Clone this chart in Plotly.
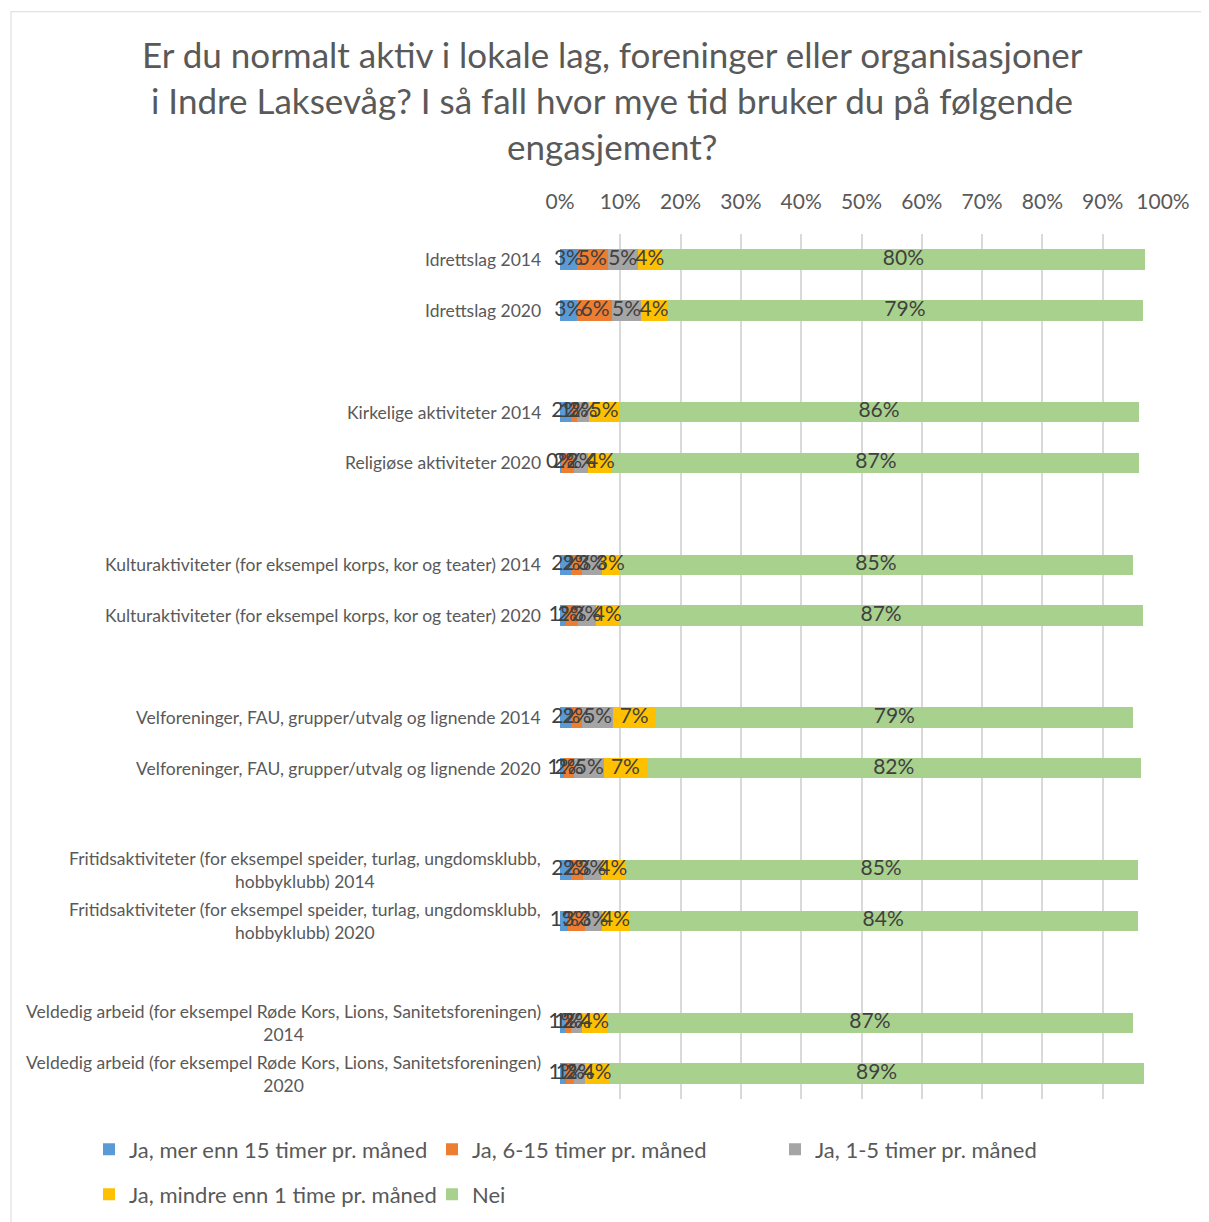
import plotly.graph_objects as go

# ---------------- data ----------------
categories = [
    "Idrettslag 2014",
    "Idrettslag 2020",
    "Kirkelige aktiviteter 2014",
    "Religiøse aktiviteter 2020",
    "Kulturaktiviteter (for eksempel korps, kor og teater) 2014",
    "Kulturaktiviteter (for eksempel korps, kor og teater) 2020",
    "Velforeninger, FAU, grupper/utvalg og lignende 2014",
    "Velforeninger, FAU, grupper/utvalg og lignende 2020",
    "Fritidsaktiviteter (for eksempel speider, turlag, ungdomsklubb,<br>hobbyklubb) 2014",
    "Fritidsaktiviteter (for eksempel speider, turlag, ungdomsklubb,<br>hobbyklubb) 2020",
    "Veldedig arbeid (for eksempel Røde Kors, Lions, Sanitetsforeningen)<br>2014",
    "Veldedig arbeid (for eksempel Røde Kors, Lions, Sanitetsforeningen)<br>2020",
]
series_names = [
    "Ja, mer enn 15 timer pr. måned",
    "Ja, 6-15 timer pr. måned",
    "Ja, 1-5 timer pr. måned",
    "Ja, mindre enn 1 time pr. måned",
    "Nei",
]
mer_enn_15 = [2.8, 2.9, 1.9, 0.2, 1.9, 1.0, 1.9, 0.6, 1.9, 1.4, 0.9, 1.0]
timer_6_15 = [5.1, 5.8, 0.9, 2.1, 1.8, 2.0, 1.8, 1.8, 1.9, 2.8, 1.0, 1.4]
timer_1_5 = [5.0, 4.7, 2.0, 2.4, 3.2, 2.9, 5.1, 4.9, 3.0, 2.8, 1.8, 1.8]
mindre_enn_1 = [4.0, 4.4, 5.0, 4.0, 2.9, 3.9, 7.0, 7.1, 3.9, 4.4, 4.1, 3.9]
nei = [80.1, 78.8, 86.2, 87.4, 85.2, 86.9, 79.3, 81.9, 85.1, 84.4, 87.2, 88.8]
x_ticks = [0, 10, 20, 30, 40, 50, 60, 70, 80, 90, 100]
x_tick_labels = ["0%", "10%", "20%", "30%", "40%", "50%", "60%", "70%", "80%", "90%", "100%"]

colors = ["#5B9BD5", "#ED7D31", "#A5A5A5", "#FFC000", "#A9D18E"]
series_values = [mer_enn_15, timer_6_15, timer_1_5, mindre_enn_1, nei]

# insert an empty slot after every pair of categories
y_cats, gap_idx = [], 0
for i, c in enumerate(categories):
    y_cats.append(c)
    if i % 2 == 1 and i < len(categories) - 1:
        gap_idx += 1
        y_cats.append(" " * gap_idx)

def expand(vals):
    out, k = [], 0
    for c in y_cats:
        if c.strip() == "":
            out.append(None)
        else:
            out.append(vals[k]); k += 1
    return out

# ---------------- layout geometry (page pixels; page body has 8px margin) ----------------
OFF = 8
PAGE_W, PAGE_H = 1209, 1222
W, H = PAGE_W - OFF, PAGE_H - OFF
P_LEFT, P_RIGHT, P_TOP, P_BOTTOM = 560, 1163, 233.5, 1099.5
ML, MR = P_LEFT - OFF, PAGE_W - P_RIGHT
MT, MB = P_TOP - OFF, PAGE_H - P_BOTTOM
PW, PH = P_RIGHT - P_LEFT, P_BOTTOM - P_TOP

def px_x(x):
    return (x - P_LEFT) / PW

def px_y(y):
    return (P_BOTTOM - y) / PH

FONT = "Lato"
TXT = "#595959"

fig = go.Figure()
for i, (name, vals, col) in enumerate(zip(series_names, series_values, colors)):
    fig.add_trace(go.Bar(
        x=expand(vals), y=y_cats, orientation="h", name=name,
        marker=dict(color=col, line=dict(width=0)),
        hoverinfo="x+name",
        legend="legend" if i < 3 else "legend2",
    ))

# data labels drawn on top of all bars (centre of each stacked segment)
lab_x, lab_y, lab_t = [], [], []
for r, cat in enumerate(categories):
    cum = 0.0
    for vals in series_values:
        v = vals[r]
        lab_x.append(cum + v / 2)
        lab_y.append(cat)
        lab_t.append(f"{v:.0f}%")
        cum += v
fig.add_trace(go.Scatter(
    x=lab_x, y=lab_y, mode="text", text=lab_t, textposition="middle center",
    textfont=dict(size=21, color="#404040", family=FONT),
    showlegend=False, hoverinfo="skip", cliponaxis=False,
))

fig.update_layout(
    width=W, height=H, barmode="stack", bargap=0.6,
    paper_bgcolor="white", plot_bgcolor="white",
    margin=dict(l=ML, r=MR, t=MT, b=MB, autoexpand=False),
    font=dict(family=FONT, color=TXT),
    xaxis=dict(side="top", range=[0, 100], tickvals=x_ticks, ticktext=x_tick_labels,
               showgrid=True, gridcolor="#D9D9D9", gridwidth=2, zeroline=False,
               showline=False, ticks="", tickfont=dict(size=21, color=TXT),
               ticklabelstandoff=20),
    yaxis=dict(type="category", categoryorder="array", categoryarray=y_cats,
               range=[len(y_cats) - 0.5, -0.5], showgrid=False, zeroline=False,
               showline=False, ticks="", showticklabels=False),
    legend=dict(orientation="h", x=px_x(89), xanchor="left", y=px_y(1150), yanchor="middle",
                font=dict(size=22, color=TXT), entrywidth=298, traceorder="normal"),
    legend2=dict(orientation="h", x=px_x(89), xanchor="left", y=px_y(1195), yanchor="middle",
                 font=dict(size=22, color=TXT), entrywidth=298, traceorder="normal"),
    showlegend=True,
)

# category labels (right-aligned block, lines centred within it, like the original)
for cat in categories:
    fig.add_annotation(text=cat, xref="paper", yref="y", x=px_x(543), y=cat,
                       xanchor="right", yanchor="middle", align="center",
                       showarrow=False, font=dict(size=17.5, color=TXT, family=FONT))

title_lines = [
    ("Er du normalt aktiv i lokale lag, foreninger eller organisasjoner", 53),
    ("i Indre Laksevåg? I så fall hvor mye tid bruker du på følgende", 99),
    ("engasjement?", 145),
]
for t, yp in title_lines:
    fig.add_annotation(text=t, xref="paper", yref="paper", x=px_x(612), y=px_y(yp),
                       xanchor="center", yanchor="middle", showarrow=False,
                       font=dict(size=35, color=TXT, family=FONT))

fig.add_shape(type="rect", xref="paper", yref="paper",
              x0=px_x(11), x1=px_x(1240), y0=px_y(1240), y1=px_y(11),
              line=dict(color="#D9D9D9", width=1), fillcolor="rgba(0,0,0,0)", layer="below")

fig.write_html("out.html")
